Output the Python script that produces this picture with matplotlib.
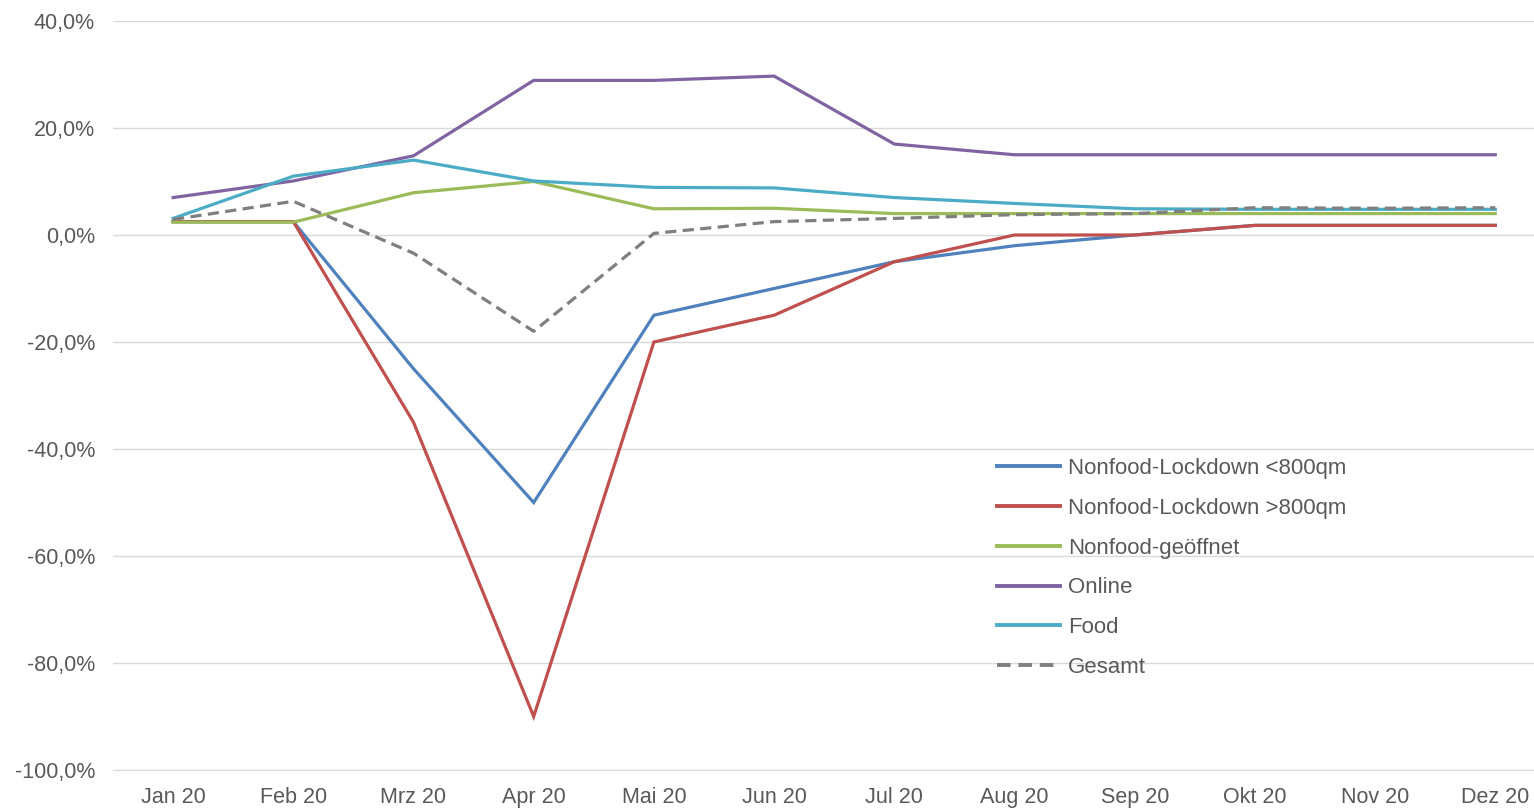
import matplotlib
matplotlib.use("Agg")
import matplotlib.pyplot as plt
from matplotlib.ticker import FuncFormatter

months = ["Jan 20", "Feb 20", "Mrz 20", "Apr 20", "Mai 20", "Jun 20",
          "Jul 20", "Aug 20", "Sep 20", "Okt 20", "Nov 20", "Dez 20"]

nonfood_lock_small = [2.5, 2.5, -25.0, -50.0, -15.0, -10.0, -5.0, -2.0, 0.0, 1.8, 1.8, 1.8]
nonfood_lock_large = [2.5, 2.5, -35.0, -90.0, -20.0, -15.0, -5.0, 0.0, 0.0, 1.8, 1.8, 1.8]
nonfood_open = [2.4, 2.4, 7.9, 10.0, 4.9, 5.0, 4.0, 4.0, 4.0, 4.0, 4.0, 4.0]
online = [7.0, 10.1, 14.8, 28.9, 28.9, 29.7, 17.0, 15.0, 15.0, 15.0, 15.0, 15.0]
food = [3.1, 11.0, 14.0, 10.1, 8.9, 8.8, 7.0, 5.9, 4.9, 4.8, 4.8, 4.8]
gesamt = [2.9, 6.3, -3.4, -18.0, 0.3, 2.5, 3.1, 3.8, 4.0, 5.1, 5.0, 5.1]

series = [
    ("Nonfood-Lockdown <800qm", nonfood_lock_small, "#4F81BD", "-"),
    ("Nonfood-Lockdown >800qm", nonfood_lock_large, "#C0504D", "-"),
    ("Nonfood-geöffnet", nonfood_open, "#9BBB59", "-"),
    ("Online", online, "#8064A2", "-"),
    ("Food", food, "#4BACC6", "-"),
    ("Gesamt", gesamt, "#7F7F7F", "--"),
]

plt.rcParams['font.family'] = ['Liberation Sans', 'DejaVu Sans']
W, H = 1534, 808
fig = plt.figure(figsize=(W / 100, H / 100), dpi=100)
left, right, top, bottom = 113, 1534, 21, 770
ax = fig.add_axes([left / W, 1 - bottom / H, (right - left) / W, (bottom - top) / H])

x = list(range(len(months)))
for name, vals, col, ls in series:
    if ls == "--":
        ax.plot(x, vals, color=col, lw=2.3, linestyle=(0, (3.5, 2)), label=name,
                solid_capstyle="butt", dash_capstyle="butt")
    else:
        ax.plot(x, vals, color=col, lw=2.3, label=name, solid_joinstyle="miter")

ax.set_ylim(-100, 40)
ax.set_xlim(-0.5, (right - left) / 120.2 - 0.5)
ax.set_yticks(range(-100, 41, 20))
ax.yaxis.set_major_formatter(FuncFormatter(lambda v, p: f"{v:.1f}%".replace(".", ",")))
ax.set_xticks(x)
ax.set_xticklabels(months)
ax.grid(axis="y", color="#D9D9D9", lw=1)
ax.set_axisbelow(True)
for s in ["top", "right", "left"]:
    ax.spines[s].set_visible(False)
ax.spines["bottom"].set_color("#D9D9D9")
fs = 15.5
ax.tick_params(axis="y", length=0, pad=13, labelsize=fs, labelcolor="#595959")
ax.tick_params(axis="x", length=0, pad=12, labelsize=fs, labelcolor="#595959")

leg = ax.legend(loc="upper left", bbox_to_anchor=(997 / W, 1 - 458 / H),
                bbox_transform=fig.transFigure, frameon=False, fontsize=16,
                handlelength=2.84, handletextpad=0.36, labelspacing=0.845,
                labelcolor="#595959", borderaxespad=0, borderpad=0)
for h in leg.get_lines():
    h.set_linewidth(2.8)

fig.savefig("out.png", dpi=100)
